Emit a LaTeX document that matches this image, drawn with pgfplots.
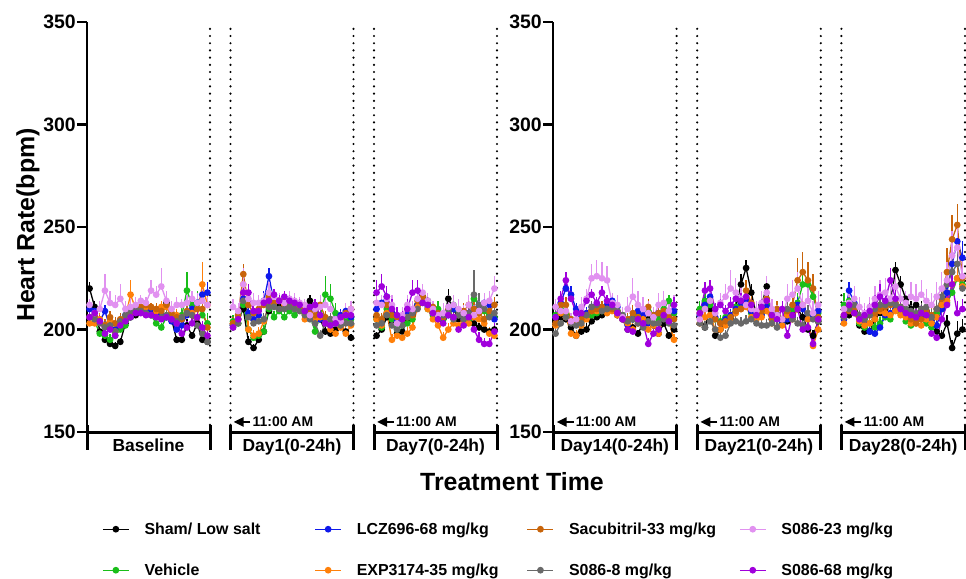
\documentclass[border=0pt]{standalone}
\usepackage{pgfplots}
\pgfplotsset{compat=1.18}
\usepackage{fontspec}
\setmainfont{Liberation Sans}
\usetikzlibrary{arrows.meta}

\definecolor{cK}{RGB}{0,0,0}
\definecolor{cV}{RGB}{25,190,25}
\definecolor{cL}{RGB}{15,25,235}
\definecolor{cE}{RGB}{255,128,10}
\definecolor{cS}{RGB}{200,100,10}
\definecolor{cG}{RGB}{105,105,105}
\definecolor{cP}{RGB}{225,145,240}
\definecolor{cM}{RGB}{160,0,220}

\pgfplotsset{
  ser/.style={color=#1, mark=*, mark size=2.7bp, line width=1.3bp,
    mark options={solid, fill=#1},
    /pgfplots/error bars/y dir=plus, /pgfplots/error bars/y explicit,
    /pgfplots/error bars/error mark=none,
    /pgfplots/error bars/error bar style={line width=1.3bp, color=#1}},
  sK/.style={ser=cK}, sV/.style={ser=cV}, sL/.style={ser=cL}, sE/.style={ser=cE},
  sS/.style={ser=cS}, sG/.style={ser=cG}, sP/.style={ser=cP}, sM/.style={ser=cM},
  panel/.style={scale only axis, height=426bp,
    xmin=0, xmax=80, ymin=142.2, ymax=350, clip=false,
    axis x line=none, axis y line*=left,
    axis line style={line width=2.5bp},
    ytick={150,200,250,300,350}, xtick=\empty,
    tick align=outside, major tick length=10bp,
    tick style={line width=2.5bp, black},
    yticklabel style={font=\bfseries\fontsize{19.5}{22}\selectfont, inner sep=1bp},
    /pgf/number format/assume math mode=true,
    legend image code/.code={\draw[mark repeat=2,mark phase=2,##1] plot coordinates {(0bp,0bp) (13bp,0bp) (26bp,0bp)};}},
}

% one segment of one series: style, x offset, "y err" rows
\newcommand\sg[3]{\addplot[#1, forget plot] table[row sep=\\, header=false, x expr=\coordindex+#2, y index=0, y error index=1]{#3};}
\newcommand\dotline[1]{\draw[line width=2.4bp, dash pattern=on 0bp off 7.2bp, line cap=round] (axis cs:#1,153.5) -- (axis cs:#1,350);}
\newcommand\brk[4]{%
  \draw[line width=3bp] (axis cs:#1,150) -- (axis cs:#2,150);
  \draw[line width=3bp] (axis cs:#1,153.4) -- (axis cs:#1,141.2);
  \draw[line width=3bp] (axis cs:#2,153.4) -- (axis cs:#2,141.2);
  \node[anchor=north, inner sep=0pt, font=\bfseries\fontsize{17.5}{20}\selectfont] at (axis cs:#3,146.6) {#4};}
\newcommand\amark[3]{%
  \draw[line width=2.4bp, -{Triangle[length=10bp, width=9bp]}] (axis cs:#2,154.9) -- (axis cs:#1,154.9);
  \node[anchor=west, inner sep=0pt, font=\bfseries\fontsize{14}{16}\selectfont] at (axis cs:#3,154.9) {11:00 AM};}

\begin{document}
\begin{tikzpicture}
\path[use as bounding box] (0,0) rectangle (966bp,579bp);

\begin{axis}[panel, width=410bp, at={(87bp,131bp)}, anchor=south west,
  legend columns=4, legend cell align=left,
  legend style={at={(0.0366,-0.1667)}, anchor=north west, draw=none, fill=none,
    inner sep=0pt, row sep=21bp, font=\bfseries\fontsize{16}{19}\selectfont,
    nodes={inner sep=2bp, text height=13bp, text depth=3bp},
    /tikz/every odd column/.append style={column sep=13bp},
    /tikz/every even column/.append style={column sep=8bp}}]
\addlegendimage{sK}\addlegendentry{\makebox[160bp][l]{Sham/ Low salt}}
\addlegendimage{sL}\addlegendentry{\makebox[160bp][l]{LCZ696-68 mg/kg}}
\addlegendimage{sS}\addlegendentry{\makebox[160bp][l]{Sacubitril-33 mg/kg}}
\addlegendimage{sP}\addlegendentry{\makebox[160bp][l]{S086-23 mg/kg}}
\addlegendimage{sV}\addlegendentry{\makebox[160bp][l]{Vehicle}}
\addlegendimage{sE}\addlegendentry{\makebox[160bp][l]{EXP3174-35 mg/kg}}
\addlegendimage{sG}\addlegendentry{\makebox[160bp][l]{S086-8 mg/kg}}
\addlegendimage{sM}\addlegendentry{\makebox[160bp][l]{S086-68 mg/kg}}

\dotline{24}\dotline{28}\dotline{52}\dotline{56}\dotline{80}
\brk{0}{24}{12}{Baseline}
\brk{28}{52}{40}{Day1(0-24h)}
\brk{56}{80}{68}{Day7(0-24h)}
\amark{28.6}{31.9}{32.3}
\amark{56.6}{59.9}{60.3}

% Sham / Low salt
\sg{sK}{0.5}{220 3\\211 3\\199 2\\195 2\\193 2\\192 2\\194 2\\203 2\\206 2\\207 2\\209 2\\209 2\\208 2\\209 2\\210 2\\213 3\\205 3\\195 2\\195 2\\202 3\\197 2\\203 3\\195 2\\194 2\\}
\sg{sK}{28.5}{202 2\\205 3\\210 4\\194 3\\191 2\\195 2\\199 3\\209 3\\212 3\\212 2\\213 2\\212 2\\211 2\\210 2\\211 3\\214 3\\210 3\\205 3\\199 2\\198 2\\200 2\\202 2\\199 2\\196 2\\}
\sg{sK}{56.5}{197 2\\200 3\\206 4\\203 3\\198 2\\199 2\\204 3\\207 3\\212 4\\216 3\\213 3\\210 3\\207 3\\205 3\\215 5\\210 3\\205 3\\204 3\\205 3\\203 2\\201 2\\200 2\\199 2\\200 2\\}
% Vehicle
\sg{sV}{0.5}{206 3\\204 3\\198 2\\197 2\\195 3\\197 2\\200 2\\202 2\\206 2\\209 2\\209 2\\208 2\\207 2\\203 3\\201 2\\206 3\\206 3\\205 3\\207 4\\219 9\\212 5\\213 6\\207 9\\203 5\\}
\sg{sV}{28.5}{204 3\\203 3\\212 5\\200 3\\196 3\\197 3\\199 3\\210 4\\206 3\\209 3\\206 3\\209 3\\207 3\\210 3\\208 3\\207 3\\199 3\\207 4\\217 9\\215 7\\208 5\\203 4\\205 4\\205 4\\}
\sg{sV}{56.5}{205 3\\201 3\\210 4\\205 3\\200 3\\202 3\\203 3\\205 3\\212 3\\214 3\\210 3\\207 3\\210 4\\205 3\\208 4\\212 4\\209 4\\206 4\\205 4\\215 12\\212 6\\209 5\\207 4\\206 4\\}
% LCZ696
\sg{sL}{0.5}{210 3\\209 3\\204 3\\209 3\\201 3\\200 3\\204 2\\207 2\\208 2\\209 2\\209 2\\210 2\\210 2\\208 2\\207 2\\206 2\\204 3\\200 3\\202 3\\207 3\\210 4\\213 5\\217 10\\218 5\\}
\sg{sL}{28.5}{202 3\\207 4\\215 5\\208 4\\205 3\\207 3\\214 5\\226 4\\213 3\\214 3\\213 3\\212 2\\212 2\\211 3\\210 3\\209 3\\204 3\\205 3\\203 3\\202 3\\205 3\\207 3\\209 4\\206 3\\}
\sg{sL}{56.5}{210 3\\213 4\\216 4\\208 3\\204 3\\206 3\\207 3\\208 3\\212 3\\214 3\\211 3\\208 3\\206 3\\206 3\\207 3\\210 3\\207 3\\205 3\\208 3\\210 3\\212 4\\213 4\\212 4\\205 3\\}
% EXP3174
\sg{sE}{0.5}{203 2\\203 2\\205 3\\202 3\\204 3\\199 2\\203 3\\206 3\\217 7\\210 3\\209 2\\211 2\\211 2\\209 2\\211 3\\211 3\\206 3\\207 3\\206 3\\208 3\\208 4\\206 4\\222 11\\212 5\\}
\sg{sE}{28.5}{203 3\\205 4\\222 5\\200 4\\197 3\\198 3\\204 3\\212 3\\213 3\\214 3\\212 3\\213 3\\211 3\\210 3\\205 3\\207 3\\205 3\\206 4\\203 3\\200 3\\198 3\\201 3\\198 4\\202 8\\}
\sg{sE}{56.5}{205 3\\202 3\\208 4\\195 3\\197 3\\196 3\\198 3\\201 3\\211 3\\214 3\\210 3\\205 3\\202 3\\196 3\\200 3\\203 3\\202 3\\204 3\\203 3\\206 4\\205 4\\203 3\\198 3\\197 3\\}
% Sacubitril
\sg{sS}{0.5}{206 2\\207 3\\204 3\\202 3\\206 3\\203 3\\205 3\\206 2\\208 3\\211 2\\211 2\\212 2\\211 2\\210 3\\209 3\\212 4\\208 3\\206 3\\205 3\\209 3\\207 3\\210 4\\210 5\\201 4\\}
\sg{sS}{28.5}{203 3\\207 4\\227 5\\212 4\\208 3\\210 3\\212 3\\216 4\\213 3\\214 3\\214 3\\213 3\\213 3\\212 3\\210 3\\208 3\\207 3\\212 4\\206 3\\205 3\\204 3\\205 4\\208 5\\210 4\\}
\sg{sS}{56.5}{207 3\\205 3\\212 4\\207 3\\206 3\\205 3\\206 3\\207 3\\214 3\\216 3\\212 3\\211 3\\208 3\\206 3\\210 4\\206 3\\207 3\\209 4\\212 5\\210 5\\208 4\\205 4\\209 4\\212 4\\}
% S086-8
\sg{sG}{0.5}{206 2\\205 2\\203 3\\201 3\\202 3\\199 3\\204 3\\207 3\\209 4\\210 3\\209 2\\208 2\\207 2\\206 2\\206 2\\207 3\\205 3\\204 3\\206 3\\208 3\\207 3\\202 3\\198 3\\194 2\\}
\sg{sG}{28.5}{201 2\\203 3\\214 4\\206 3\\203 3\\204 3\\205 3\\211 3\\211 3\\210 3\\210 2\\211 2\\210 2\\209 2\\207 3\\205 3\\203 3\\197 3\\203 3\\205 3\\203 3\\202 3\\203 3\\203 3\\}
\sg{sG}{56.5}{202 3\\203 3\\207 4\\202 3\\200 3\\202 3\\206 3\\208 4\\210 3\\213 3\\214 3\\208 3\\206 3\\207 3\\209 4\\205 3\\207 3\\205 3\\208 4\\217 12\\212 6\\210 5\\206 4\\208 4\\}
% S086-23
\sg{sP}{0.5}{212 3\\208 4\\210 4\\219 8\\213 6\\212 5\\215 7\\210 4\\211 5\\212 4\\214 3\\213 3\\219 5\\217 4\\221 9\\214 5\\210 4\\212 4\\212 3\\213 4\\215 4\\213 5\\214 6\\212 4\\}
\sg{sP}{28.5}{211 4\\209 4\\222 8\\215 5\\213 5\\213 4\\214 4\\218 5\\216 4\\214 4\\213 3\\215 4\\214 4\\213 3\\212 3\\207 4\\210 4\\211 6\\212 4\\210 5\\205 4\\204 5\\207 6\\210 4\\}
\sg{sP}{56.5}{213 5\\212 5\\215 6\\212 5\\203 4\\207 4\\212 5\\210 4\\215 5\\218 4\\214 4\\210 4\\207 4\\208 5\\211 6\\212 5\\210 5\\208 4\\212 5\\207 5\\209 5\\213 5\\214 5\\220 6\\}
% S086-68
\sg{sM}{0.5}{206 3\\208 3\\204 3\\198 3\\200 3\\197 3\\202 3\\204 2\\206 2\\208 2\\208 2\\207 2\\207 2\\206 2\\205 2\\206 2\\205 3\\203 3\\198 3\\201 3\\203 3\\206 3\\201 3\\197 3\\}
\sg{sM}{28.5}{201 2\\205 3\\218 5\\218 4\\209 3\\209 3\\213 3\\214 3\\217 3\\214 3\\216 3\\214 3\\213 3\\212 3\\209 3\\211 3\\212 3\\207 3\\203 3\\202 3\\203 3\\206 3\\207 3\\207 3\\}
\sg{sM}{56.5}{218 6\\221 6\\216 5\\210 5\\207 4\\205 4\\210 5\\218 6\\219 5\\213 4\\212 4\\208 4\\205 4\\203 4\\207 5\\206 4\\200 4\\202 4\\206 4\\200 4\\195 4\\193 3\\193 3\\199 4\\}
\end{axis}

\begin{axis}[panel, width=412bp, at={(553bp,131bp)}, anchor=south west]
\dotline{24}\dotline{28}\dotline{52}\dotline{56}\dotline{80}
\brk{0}{24}{12}{Day14(0-24h)}
\brk{28}{52}{40}{Day21(0-24h)}
\brk{56}{80}{68}{Day28(0-24h)}
\amark{0.7}{4.0}{4.4}
\amark{28.6}{31.9}{32.3}
\amark{56.6}{59.9}{60.3}

% Sham / Low salt
\sg{sK}{0.5}{203 2\\206 3\\205 3\\201 3\\197 2\\199 2\\200 3\\204 3\\206 3\\207 3\\209 3\\210 3\\207 3\\205 3\\200 2\\201 2\\198 2\\203 3\\205 3\\202 3\\198 2\\203 3\\197 2\\200 2\\}
\sg{sK}{28.5}{206 3\\201 3\\210 4\\197 3\\200 3\\203 3\\205 3\\211 4\\222 5\\230 4\\218 4\\207 4\\212 4\\221 5\\205 3\\206 3\\203 3\\204 3\\207 3\\210 3\\206 3\\200 3\\197 3\\204 3\\}
\sg{sK}{56.5}{206 3\\207 3\\209 3\\202 3\\199 3\\199 3\\205 3\\208 3\\210 3\\213 4\\229 4\\222 4\\215 4\\210 4\\212 4\\210 4\\209 4\\205 4\\199 3\\197 3\\203 4\\191 4\\198 6\\200 5\\}
% Vehicle
\sg{sV}{0.5}{207 3\\210 3\\207 3\\205 3\\203 3\\205 3\\206 3\\207 3\\208 3\\209 3\\211 3\\210 3\\209 3\\207 3\\203 3\\205 3\\207 3\\205 3\\209 3\\206 3\\205 3\\210 3\\214 3\\208 3\\}
\sg{sV}{28.5}{210 4\\214 8\\212 5\\205 3\\204 3\\206 3\\207 3\\211 4\\212 4\\212 4\\208 3\\206 3\\208 3\\212 4\\207 3\\205 3\\203 3\\208 4\\210 4\\213 5\\222 8\\222 9\\216 6\\208 5\\}
\sg{sV}{56.5}{212 6\\214 8\\210 5\\203 3\\201 3\\203 3\\201 3\\203 3\\206 3\\205 3\\210 3\\208 3\\204 3\\202 3\\206 4\\207 4\\203 3\\201 3\\208 5\\210 6\\213 7\\218 8\\225 8\\222 7\\}
% LCZ696
\sg{sL}{0.5}{206 3\\213 4\\220 4\\217 4\\210 3\\206 3\\208 3\\211 3\\212 3\\210 3\\212 3\\214 3\\211 3\\205 3\\202 3\\205 3\\209 3\\207 3\\203 3\\207 3\\208 3\\206 3\\204 3\\209 3\\}
\sg{sL}{28.5}{207 3\\212 4\\216 4\\206 3\\203 3\\205 3\\207 3\\210 3\\213 3\\214 3\\209 3\\207 3\\207 3\\211 4\\205 3\\207 3\\203 3\\205 3\\206 3\\212 4\\210 4\\205 3\\207 3\\209 3\\}
\sg{sL}{56.5}{205 3\\219 4\\213 4\\205 3\\203 3\\199 3\\198 3\\201 3\\207 3\\208 3\\210 3\\210 3\\207 3\\207 3\\205 3\\206 3\\209 4\\205 3\\202 3\\210 5\\218 8\\232 12\\243 6\\235 8\\}
% EXP3174
\sg{sE}{0.5}{202 3\\208 3\\206 3\\198 3\\197 3\\202 3\\205 3\\209 3\\209 3\\210 3\\208 3\\209 3\\207 3\\205 3\\203 3\\200 3\\203 3\\205 3\\200 3\\202 3\\198 3\\206 3\\204 3\\195 3\\}
\sg{sE}{28.5}{203 3\\206 3\\207 3\\200 3\\200 3\\202 3\\204 3\\208 3\\210 3\\211 3\\206 3\\205 3\\206 3\\209 3\\203 3\\206 3\\202 3\\207 3\\205 3\\210 4\\212 4\\205 4\\192 3\\200 4\\}
\sg{sE}{56.5}{203 3\\210 4\\208 4\\204 3\\202 3\\203 3\\205 3\\209 3\\208 3\\207 3\\209 3\\207 3\\206 3\\203 3\\203 3\\202 3\\205 3\\203 3\\206 4\\212 5\\214 6\\222 8\\225 7\\221 6\\}
% Sacubitril
\sg{sS}{0.5}{203 3\\212 4\\212 4\\205 3\\203 3\\205 3\\207 3\\209 3\\210 3\\211 3\\210 3\\210 3\\209 3\\206 3\\205 3\\208 4\\206 3\\203 3\\211 4\\207 3\\208 3\\209 3\\206 3\\205 3\\}
\sg{sS}{28.5}{208 3\\210 4\\214 4\\205 3\\203 3\\204 3\\206 3\\209 4\\210 4\\219 5\\213 4\\207 3\\209 4\\215 5\\205 3\\210 4\\205 4\\209 5\\212 6\\224 11\\228 10\\224 9\\220 7\\206 5\\}
\sg{sS}{56.5}{207 3\\209 4\\210 4\\206 3\\205 3\\207 3\\208 3\\210 3\\211 3\\212 3\\213 4\\211 3\\209 3\\205 3\\203 3\\205 3\\209 4\\207 4\\210 5\\215 6\\228 12\\244 12\\251 10\\225 8\\}
% S086-8
\sg{sG}{0.5}{198 3\\203 3\\206 3\\203 3\\202 3\\203 3\\207 3\\211 3\\212 3\\209 3\\210 3\\211 3\\209 3\\207 3\\204 3\\205 3\\203 3\\201 3\\204 3\\203 3\\203 3\\205 3\\203 3\\202 3\\}
\sg{sG}{28.5}{203 3\\201 3\\204 3\\200 3\\196 3\\197 3\\203 3\\204 3\\203 3\\204 3\\205 3\\203 3\\202 3\\202 3\\203 3\\201 3\\205 4\\210 8\\205 4\\203 3\\202 3\\208 4\\205 3\\204 3\\}
\sg{sG}{56.5}{206 3\\210 3\\212 3\\207 3\\205 3\\207 3\\210 3\\212 3\\212 3\\213 3\\212 3\\211 3\\210 3\\209 3\\208 3\\210 3\\211 4\\206 4\\210 5\\216 6\\222 7\\228 8\\232 8\\220 7\\}
% S086-23
\sg{sP}{0.5}{211 4\\209 4\\209 4\\204 4\\205 4\\211 5\\215 5\\225 7\\226 8\\225 8\\224 7\\213 5\\212 5\\206 5\\210 6\\216 9\\212 7\\210 6\\208 6\\206 5\\212 6\\213 6\\209 5\\212 5\\}
\sg{sP}{28.5}{205 4\\210 5\\214 5\\208 4\\213 5\\216 6\\220 9\\218 7\\215 6\\212 5\\210 5\\209 5\\213 6\\218 8\\210 5\\207 5\\205 5\\215 7\\217 7\\220 8\\212 6\\214 7\\208 6\\212 7\\}
\sg{sP}{56.5}{210 4\\213 5\\215 6\\211 5\\208 5\\211 5\\215 6\\217 7\\218 7\\215 6\\221 8\\215 6\\213 6\\216 7\\215 7\\217 7\\214 6\\212 6\\216 7\\220 8\\224 9\\236 12\\240 12\\226 9\\}
% S086-68
\sg{sM}{0.5}{206 3\\215 4\\224 4\\215 4\\208 3\\208 3\\214 3\\217 3\\213 3\\218 3\\214 3\\212 3\\208 3\\205 3\\200 3\\199 3\\205 3\\203 3\\193 3\\198 3\\200 3\\207 3\\204 3\\212 4\\}
\sg{sM}{28.5}{208 3\\219 4\\220 4\\210 3\\212 3\\209 3\\212 4\\215 4\\214 4\\216 4\\212 3\\207 3\\211 4\\214 4\\207 3\\205 3\\210 4\\197 3\\207 4\\210 4\\200 3\\201 3\\193 3\\205 3\\}
\sg{sM}{56.5}{207 3\\212 4\\208 3\\205 3\\207 3\\209 4\\212 5\\216 6\\214 5\\224 6\\215 5\\210 4\\208 4\\207 4\\206 4\\208 4\\207 4\\198 4\\196 4\\205 5\\212 6\\222 7\\208 6\\210 5\\}
\end{axis}

\node[rotate=90, font=\bfseries\fontsize{25}{30}\selectfont] at (28bp,354bp) {Heart Rate(bpm)};
\node[font=\bfseries\fontsize{25}{30}\selectfont] at (512bp,97bp) {Treatment Time};
\end{tikzpicture}
\end{document}
